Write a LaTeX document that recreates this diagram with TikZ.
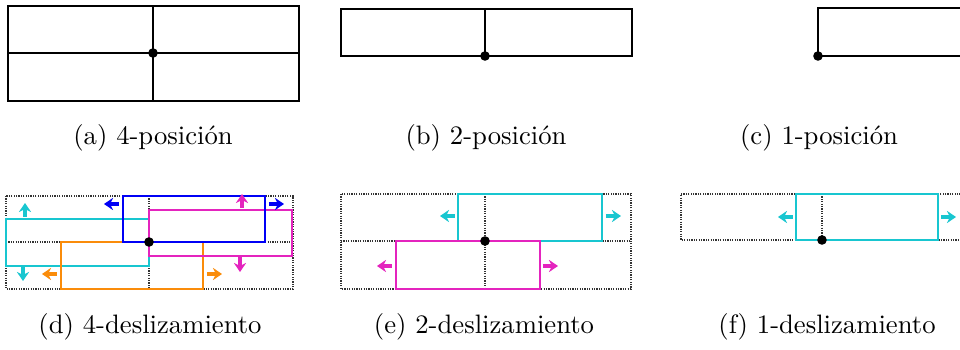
\documentclass[tikz,border=0pt]{standalone}
\usetikzlibrary{arrows.meta}
\definecolor{slidecyan}{RGB}{24,198,208}
\definecolor{slideblue}{RGB}{0,0,245}
\definecolor{slidemag}{RGB}{228,36,190}
\definecolor{slideorange}{RGB}{250,140,10}
\begin{document}
\begin{tikzpicture}[x=0.375pt, y=-0.375pt,
  every node/.style={font=\normalsize},
  solidgrid/.style={line width=0.85pt},
  dotgrid/.style={line width=0.7pt, dash pattern=on 0.45pt off 0.45pt, black!80},
  shiftbox/.style={line width=0.85pt},
  push/.style={line width=1.3pt, -{Stealth[length=3.4pt,width=4.6pt]}},
  pivot/.style={circle, fill, inner sep=0pt, minimum size=3.6pt}]
  \useasboundingbox (0,0) rectangle (960,350);

  % (a) four positions
  \draw[solidgrid] (8,6) rectangle (299,101);
  \draw[solidgrid] (8,53) -- (299,53) (153,6) -- (153,101);
  \node[pivot] (pa) at (153,53) {};
  \node (capa) at (153,138) {(a) 4-posición};

  % (b) two positions
  \draw[solidgrid] (341,9) rectangle (632,56);
  \draw[solidgrid] (485,9) -- (485,56);
  \node[pivot] (pb) at (485,56) {};
  \node (capb) at (486,138) {(b) 2-posición};

  % (c) one position
  \draw[solidgrid] (975,8) -- (818,8) -- (818,56) -- (975,56);
  \node[pivot] (pc) at (818,56) {};
  \node (capc) at (819,138) {(c) 1-posición};

  % (d) four slidings
  \draw[dotgrid] (6,196) rectangle (293,289);
  \draw[dotgrid] (6,242) -- (293,242) (149,196) -- (149,289);
  \draw[shiftbox, slidecyan] (6,219) rectangle (149,266);
  \draw[shiftbox, slideorange] (61,242) rectangle (203,289);
  \draw[shiftbox, slidemag] (149,210) rectangle (292,256);
  \draw[shiftbox, slideblue] (123,196) rectangle (265,242);
  \draw[push, slidecyan] (25,217) -- (25,203);
  \draw[push, slidecyan] (23,267) -- (23,281);
  \draw[push, slideblue] (119,204) -- (104,204);
  \draw[push, slideblue] (269,204) -- (284,204);
  \draw[push, slidemag] (242,208) -- (242,194);
  \draw[push, slidemag] (240,257) -- (240,272);
  \draw[push, slideorange] (57,274) -- (42,274);
  \draw[push, slideorange] (207,274) -- (222,274);
  \node[pivot] (pd) at (149,242) {};
  \node (capd) at (150,327) {(d) 4-deslizamiento};

  % (e) two slidings
  \draw[dotgrid] (341,194) rectangle (631,289);
  \draw[dotgrid] (341,241) -- (631,241) (485,194) -- (485,289);
  \draw[shiftbox, slidecyan] (458,194) rectangle (602,241);
  \draw[shiftbox, slidemag] (396,241) rectangle (540,289);
  \draw[push, slidecyan] (455,216) -- (440,216);
  \draw[push, slidecyan] (606,216) -- (621,216);
  \draw[push, slidemag] (392,266) -- (377,266);
  \draw[push, slidemag] (543,266) -- (558,266);
  \node[pivot] (pe) at (485,241) {};
  \node (cape) at (484,327) {(e) 2-deslizamiento};

  % (f) one sliding
  \draw[dotgrid] (975,194) -- (681,194) -- (681,240) -- (975,240);
  \draw[dotgrid] (822,194) -- (822,240);
  \draw[shiftbox, slidecyan] (796,194) rectangle (938,240);
  \draw[push, slidecyan] (793,217) -- (778,217);
  \draw[push, slidecyan] (941,217) -- (956,217);
  \node[pivot] (pf) at (822,240) {};
  \node (capf) at (827,327) {(f) 1-deslizamiento};
\end{tikzpicture}
\end{document}
